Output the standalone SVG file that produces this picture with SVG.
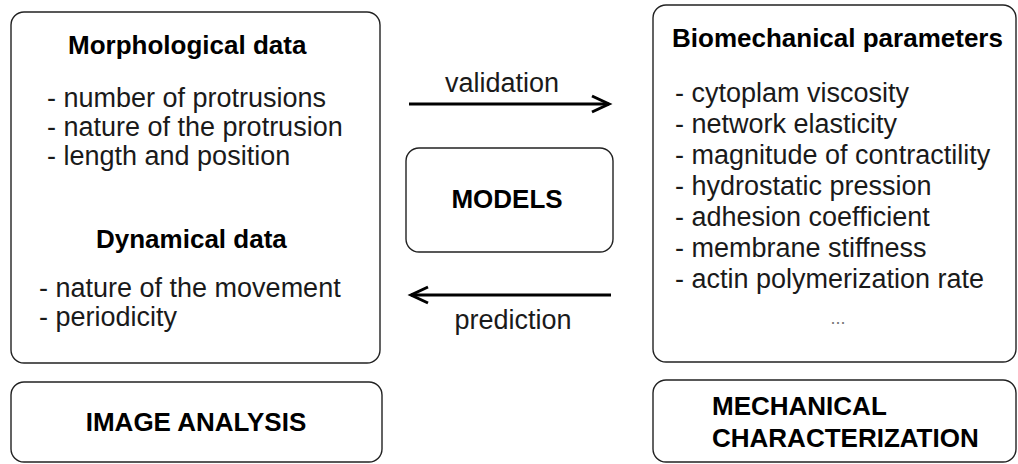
<svg xmlns="http://www.w3.org/2000/svg" width="1018" height="464" viewBox="0 0 1018 464">
<style>
.box{fill:#fff;stroke:#222;stroke-width:1.4}
.h{font-family:"Liberation Sans",Arial,sans-serif;font-weight:bold;font-size:26px;fill:#000}
.t{font-family:"Liberation Sans",Arial,sans-serif;font-size:27px;fill:#1a1a1a}
.c{text-anchor:middle}
.conn{stroke:#000;stroke-width:3;fill:none}
</style>
<rect width="1018" height="464" fill="#fff"/>
<g id="morph">
<rect class="box" x="11" y="12" width="369" height="351" rx="13"/>
<text class="h" x="68" y="54">Morphological data</text>
<text class="t" x="47" y="107">- number of protrusions</text>
<text class="t" x="47" y="136">- nature of the protrusion</text>
<text class="t" x="47" y="165">- length and position</text>
<text class="h" x="96" y="248">Dynamical data</text>
<text class="t" x="39" y="297">- nature of the movement</text>
<text class="t" x="39" y="326">- periodicity</text>
</g>
<g id="image-analysis">
<rect class="box" x="11" y="382" width="371" height="80" rx="13"/>
<text class="h c" x="196" y="431">IMAGE ANALYSIS</text>
</g>
<g id="models">
<rect class="box" x="406" y="148" width="207" height="104" rx="13"/>
<text class="h c" x="507" y="208">MODELS</text>
</g>
<g id="biomech">
<rect class="box" x="653" y="5" width="363" height="357" rx="13"/>
<text class="h" x="672" y="47">Biomechanical parameters</text>
<text class="t" x="675" y="102">- cytoplam viscosity</text>
<text class="t" x="675" y="133">- network elasticity</text>
<text class="t" x="675" y="164">- magnitude of contractility</text>
<text class="t" x="675" y="195">- hydrostatic pression</text>
<text class="t" x="675" y="226">- adhesion coefficient</text>
<text class="t" x="675" y="257">- membrane stiffness</text>
<text class="t" x="675" y="288">- actin polymerization rate</text>
<text class="t c" x="838" y="324" style="font-size:18px;fill:#777">...</text>
</g>
<g id="mech-char">
<rect class="box" x="653" y="380" width="363" height="82" rx="13"/>
<text class="h" x="712" y="415">MECHANICAL</text>
<text class="h" x="712" y="447">CHARACTERIZATION</text>
</g>
<g id="connectors">
<line class="conn" x1="409" y1="104" x2="609" y2="104"/>
<polyline class="conn" points="592,96 609,104 592,112"/>
<text class="t c" x="502" y="92">validation</text>
<line class="conn" x1="611" y1="295" x2="411" y2="295"/>
<polyline class="conn" points="428,287 411,295 428,303"/>
<text class="t c" x="513" y="329">prediction</text>
</g>
</svg>
